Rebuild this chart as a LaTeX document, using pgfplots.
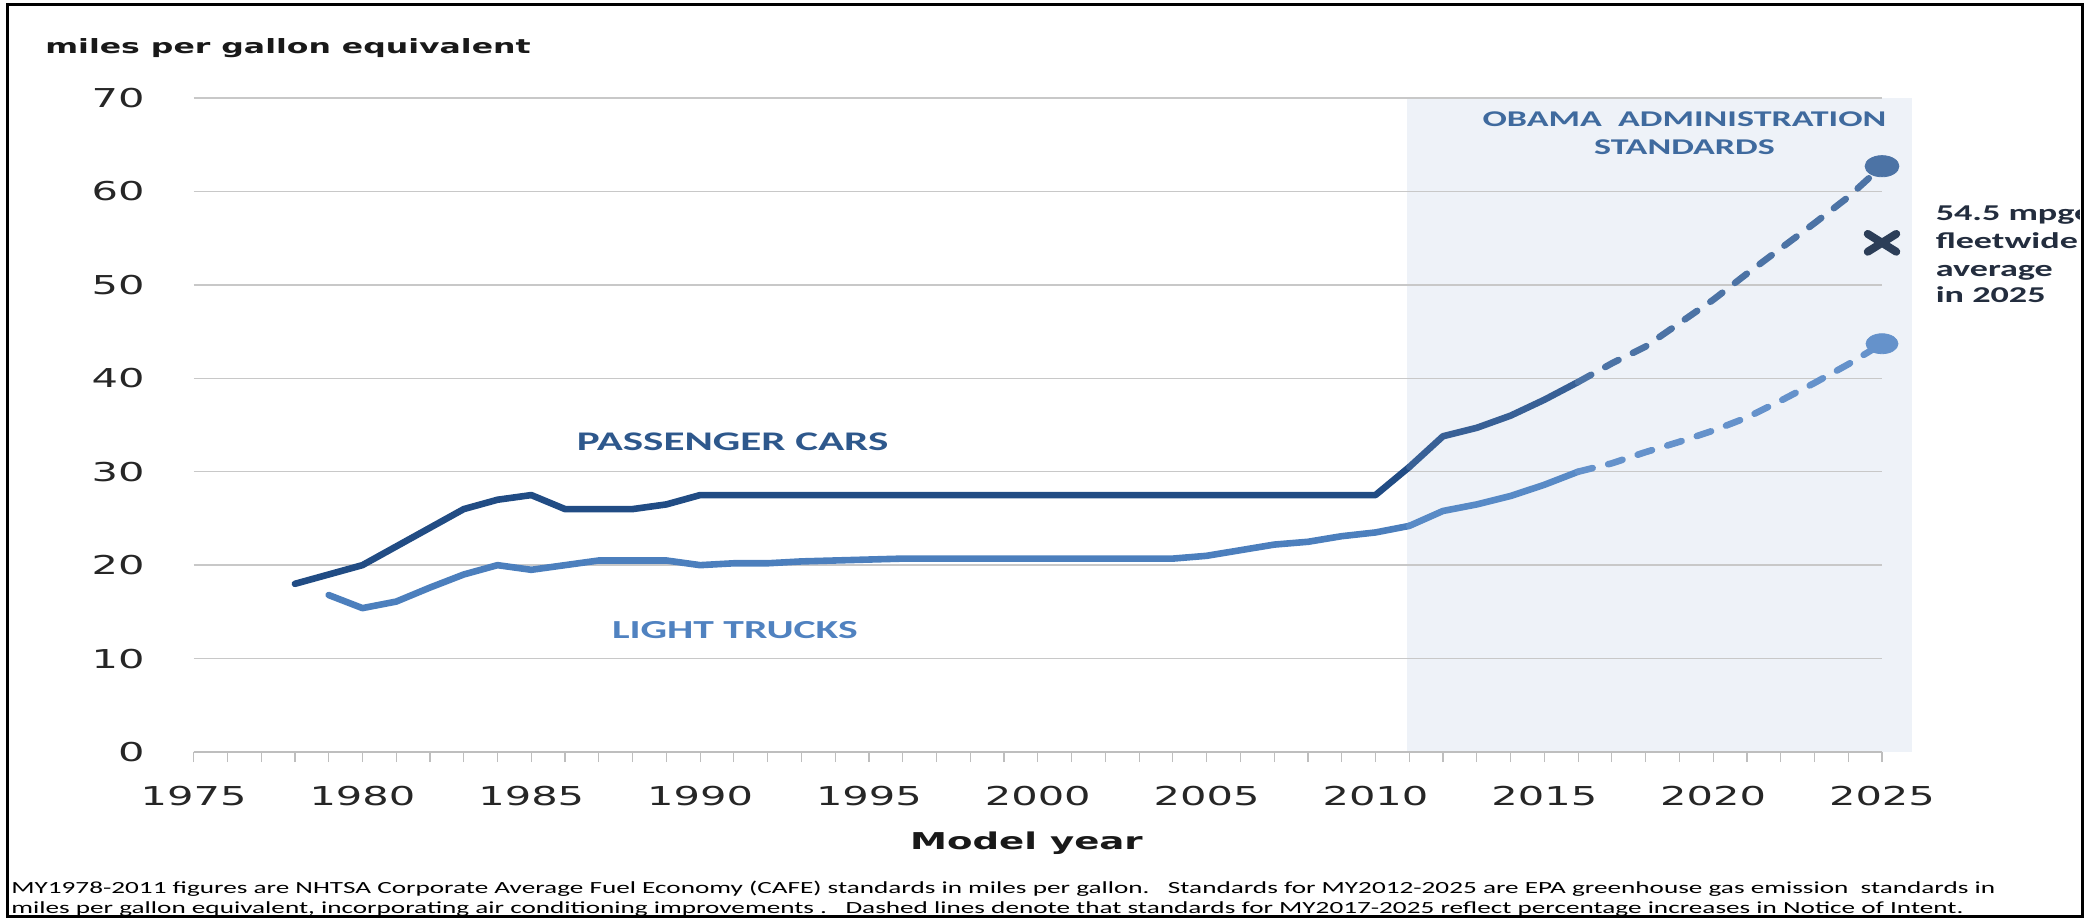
\documentclass[border=0pt]{standalone}
\usepackage{fontspec}
\setmainfont{DejaVu Sans}[FakeStretch=1.6]
\newfontfamily\calfont{Carlito}[FakeStretch=1.6]
\usepackage{pgfplots}
\pgfplotsset{compat=1.18}
\definecolor{carA}{RGB}{33,76,132}
\definecolor{carB}{RGB}{56,96,150}
\definecolor{carC}{RGB}{76,115,165}
\definecolor{trkA}{RGB}{76,127,189}
\definecolor{trkB}{RGB}{88,138,198}
\definecolor{trkC}{RGB}{101,146,203}
\definecolor{shadecol}{RGB}{238,242,248}
\definecolor{gridgray}{RGB}{200,200,200}
\definecolor{axisgray}{RGB}{190,190,190}
\definecolor{txtcar}{RGB}{46,88,140}
\definecolor{txttrk}{RGB}{80,130,192}
\definecolor{txtobama}{RGB}{63,106,158}
\definecolor{xmarkcol}{RGB}{44,62,88}
\definecolor{notecol}{RGB}{35,45,62}
\begin{document}
\begin{tikzpicture}
\begin{scope}[x=0.5pt,y=-0.5pt]
\path (0,0) rectangle (2093,919);
\end{scope}
\begin{axis}[
 at={(96.8pt,-376pt)}, anchor=south west,
 width=844.2pt, height=327pt, scale only axis,
 xmin=1975, xmax=2025, ymin=0, ymax=70,
 clip=false, set layers,
 axis line style={draw=none},
 xtick={1975,1980,...,2025}, minor x tick num=4,
 ytick={0,10,...,70},
 xtick pos=bottom, ytick pos=left,
 xtick align=outside,
 major tick length=5pt, minor tick length=5pt,
 x tick style={axisgray, line width=0.6pt},
 minor x tick style={axisgray, line width=0.6pt},
 y tick style={draw=none},
 ymajorgrids, major grid style={gridgray, line width=0.75pt},
 /pgf/number format/assume math mode=true,
 /pgf/number format/1000 sep={},
 ticklabel style={font=\fontsize{13}{13}\selectfont, text=black!85},
 yticklabel style={anchor=east, inner sep=0pt, xshift=-24.3pt},
 xticklabel style={anchor=center, inner sep=0pt, yshift=-17pt},
]
\begin{pgfonlayer}{axis background}
\fill[shadecol] (axis cs:2010.93,0) rectangle (axis cs:2025.89,70);
\end{pgfonlayer}
\draw[axisgray, line width=1pt] (axis cs:1975,0) -- (axis cs:2025,0);

% passenger cars
\addplot[carA, line width=3.3pt, line join=round, line cap=round] coordinates {
(1978,18.0) (1979,19.0) (1980,20.0) (1981,22.0) (1982,24.0) (1983,26.0) (1984,27.0)
(1985,27.5) (1986,26.0) (1987,26.0) (1988,26.0) (1989,26.5) (1990,27.5) (1995,27.5)
(2000,27.5) (2005,27.5) (2010,27.5) (2011,30.5)};
\addplot[carB, line width=3.3pt, line join=round, line cap=round] coordinates {
(2011,30.5) (2012,33.8) (2013,34.7) (2014,36.0) (2015,37.7) (2016,39.6)};
\addplot[carC, line width=3.3pt, line join=round, line cap=round, dash pattern=on 7.5pt off 8pt] coordinates {
(2016,39.6) (2017,41.6) (2018,43.4) (2019,45.9) (2020,48.4) (2021,51.2) (2022,53.9)
(2023,56.6) (2024,59.4) (2025,62.7)};
\addplot[carC, only marks, mark=*, mark size=5.3pt, mark options={xscale=1.6, draw=carC, fill=carC}] coordinates {(2025,62.7)};

% light trucks
\addplot[trkA, line width=3.3pt, line join=round, line cap=round] coordinates {
(1979,16.8) (1980,15.4) (1981,16.1) (1982,17.6) (1983,19.0) (1984,20.0) (1985,19.5)
(1986,20.0) (1987,20.5) (1988,20.5) (1989,20.5) (1990,20.0) (1991,20.2) (1992,20.2)
(1993,20.4) (1994,20.5) (1995,20.6) (1996,20.7) (2004,20.7) (2005,21.0) (2006,21.6)
(2007,22.2) (2008,22.5) (2009,23.1) (2010,23.5) (2011,24.2)};
\addplot[trkB, line width=3.3pt, line join=round, line cap=round] coordinates {
(2011,24.2) (2012,25.8) (2013,26.5) (2014,27.4) (2015,28.6) (2016,30.0)};
\addplot[trkC, line width=3.3pt, line join=round, line cap=round, dash pattern=on 7.5pt off 8pt] coordinates {
(2016,30.0) (2017,30.9) (2018,32.1) (2019,33.2) (2020,34.4) (2021,35.8) (2022,37.6)
(2023,39.5) (2024,41.5) (2025,43.7)};
\addplot[trkC, only marks, mark=*, mark size=5pt, mark options={xscale=1.6, draw=trkC, fill=trkC}] coordinates {(2025,43.7)};

% fleetwide average
\addplot[xmarkcol, only marks, mark=x, mark size=6.3pt, mark options={xscale=1.6, line width=4pt, line cap=round}] coordinates {(2025,54.5)};

\node[font=\calfont\bfseries\fontsize{13.45}{14}\selectfont, text=txtcar, inner sep=0pt] at (axis cs:1990.96,33.25) {PASSENGER CARS};
\node[font=\calfont\bfseries\fontsize{13}{14}\selectfont, text=txttrk, inner sep=0pt] at (axis cs:1991.03,13.06) {LIGHT TRUCKS};
\node[font=\calfont\bfseries\fontsize{11.25}{13}\selectfont, text=txtobama, inner sep=0pt] at (axis cs:2019.15,67.78) {OBAMA\ \ ADMINISTRATION};
\node[font=\calfont\bfseries\fontsize{11.25}{13}\selectfont, text=txtobama, inner sep=0pt] at (axis cs:2019.15,64.75) {STANDARDS};

\begin{scope}
\clip (axis cs:2025.9,80) rectangle (axis cs:2030.86,40);
\node[anchor=base west, inner sep=0pt, font=\calfont\bfseries\fontsize{11.3}{12}\selectfont, text=notecol] at (axis cs:2026.58,56.94) {54.5 mpge};
\node[anchor=base west, inner sep=0pt, font=\calfont\bfseries\fontsize{11.3}{12}\selectfont, text=notecol] at (axis cs:2026.58,53.90) {fleetwide};
\node[anchor=base west, inner sep=0pt, font=\calfont\bfseries\fontsize{11.3}{12}\selectfont, text=notecol] at (axis cs:2026.58,50.87) {average};
\node[anchor=base west, inner sep=0pt, font=\calfont\bfseries\fontsize{11.3}{12}\selectfont, text=notecol] at (axis cs:2026.58,48.09) {in 2025};
\end{scope}
\end{axis}
\begin{scope}[x=0.5pt,y=-0.5pt]
\node[anchor=base west, inner sep=0pt, font=\bfseries\fontsize{9.85}{11}\selectfont, text=black!90] at (45,53.3) {miles per gallon equivalent};
\node[anchor=center, inner sep=0pt, font=\bfseries\fontsize{11.6}{13}\selectfont, text=black!90] at (1026.5,843) {Model year};
\node[anchor=base west, inner sep=0pt, font=\calfont\fontsize{8.5}{10}\selectfont] at (11,893.5) {MY1978-2011 figures are NHTSA Corporate Average Fuel Economy (CAFE) standards in miles per gallon.\ \ \ Standards for MY2012-2025 are EPA greenhouse gas emission\ \ standards in};
\node[anchor=base west, inner sep=0pt, font=\calfont\fontsize{8.5}{10}\selectfont] at (11,913.5) {miles per gallon equivalent, incorporating air conditioning improvements .\ \ \ Dashed lines denote that standards for MY2017-2025 reflect percentage increases in Notice of Intent.};
\draw[line width=1.5pt] (7,5) rectangle (2082,916);
\end{scope}
\end{tikzpicture}
\end{document}
